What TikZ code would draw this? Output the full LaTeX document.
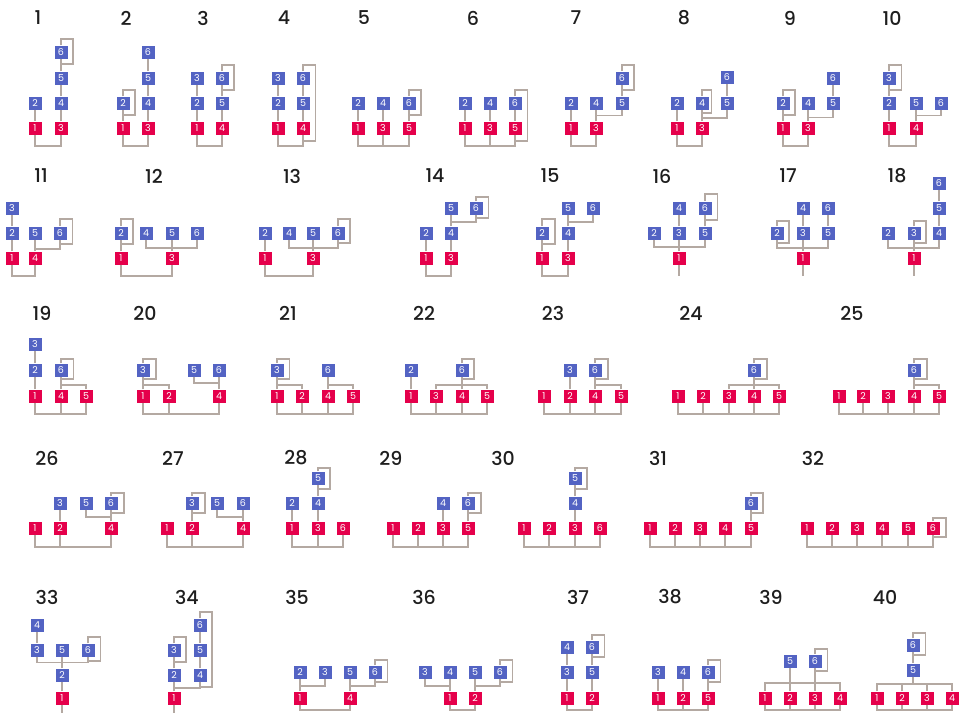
\documentclass[tikz,border=0pt]{standalone}
\usepackage{fontspec}
\setmainfont{Poppins}
\newfontfamily\ttlfont{Poppins}[UprightFont=* Medium]
\usetikzlibrary{calc}
\definecolor{nodered}{HTML}{E5004B}
\definecolor{nodeblue}{HTML}{5363C3}
\definecolor{linkgrey}{HTML}{B4A9A2}
\definecolor{ttlgrey}{HTML}{1E1E1E}
\begin{document}
\begin{tikzpicture}[x=1pt, y=-1pt,
  rbox/.style={fill=nodered, text=white, minimum size=13pt, inner sep=0pt, font=\fontsize{9.5}{9.5}\selectfont},
  bbox/.style={rbox, fill=nodeblue},
  ttl/.style={text=ttlgrey, font=\ttlfont\fontsize{19}{19}\selectfont},
  lnk/.style={draw=linkgrey, line width=1.8pt}]
\useasboundingbox (0,0) rectangle (968,712);

% ---- row 1 ----
% 1
\node[ttl] (t1) at (38,18) {1};
\node[rbox] (g1n1) at (35,128) {1};
\node[rbox] (g1n3) at (61,128) {3};
\node[bbox] (g1n2) at (35,103) {2};
\node[bbox] (g1n4) at (61,103) {4};
\node[bbox] (g1n5) at (61,78) {5};
\node[bbox] (g1n6) at (61,52) {6};
\draw[lnk] (g1n1) -- (g1n2);
\draw[lnk] (g1n3) -- (g1n4) -- (g1n5) -- (g1n6);
\draw[lnk] (g1n1) -- ++(0,18) -| (g1n3);
\draw[lnk] (g1n6.north) |- ++(12,-6) |- ++(-12,25);

% 2
\node[ttl] (t2) at (126,18) {2};
\node[rbox] (g2n1) at (123,128) {1};
\node[rbox] (g2n3) at (148,128) {3};
\node[bbox] (g2n2) at (123,103) {2};
\node[bbox] (g2n4) at (148,103) {4};
\node[bbox] (g2n5) at (148,78) {5};
\node[bbox] (g2n6) at (148,52) {6};
\draw[lnk] (g2n1) -- (g2n2);
\draw[lnk] (g2n3) -- (g2n4) -- (g2n5) -- (g2n6);
\draw[lnk] (g2n1) -- ++(0,18) -| (g2n3);
\draw[lnk] (g2n2.north) |- ++(12,-6) |- ++(-12,25);

% 3
\node[ttl] (t3) at (203,18) {3};
\node[rbox] (g3n1) at (197,128) {1};
\node[rbox] (g3n4) at (222,128) {4};
\node[bbox] (g3n2) at (197,103) {2};
\node[bbox] (g3n3) at (197,78) {3};
\node[bbox] (g3n5) at (222,103) {5};
\node[bbox] (g3n6) at (222,78) {6};
\draw[lnk] (g3n1) -- (g3n2) -- (g3n3);
\draw[lnk] (g3n4) -- (g3n5) -- (g3n6);
\draw[lnk] (g3n1) -- ++(0,18) -| (g3n4);
\draw[lnk] (g3n6.north) |- ++(12,-6) |- ++(-12,25);

% 4
\node[ttl] (t4) at (284,18) {4};
\node[rbox] (g4n1) at (278,128) {1};
\node[rbox] (g4n4) at (303,128) {4};
\node[bbox] (g4n2) at (278,103) {2};
\node[bbox] (g4n3) at (278,78) {3};
\node[bbox] (g4n5) at (303,103) {5};
\node[bbox] (g4n6) at (303,78) {6};
\draw[lnk] (g4n1) -- (g4n2) -- (g4n3);
\draw[lnk] (g4n4) -- (g4n5) -- (g4n6);
\draw[lnk] (g4n1) -- ++(0,18) -| (g4n4);
\draw[lnk] (g4n6.north) |- ++(12.5,-6) |- ++(-12.5,76);

% 5
\node[ttl] (t5) at (364,18) {5};
\node[rbox] (g5n1) at (358,128) {1};
\node[rbox] (g5n3) at (383,128) {3};
\node[rbox] (g5n5) at (409,128) {5};
\node[bbox] (g5n2) at (358,103) {2};
\node[bbox] (g5n4) at (383,103) {4};
\node[bbox] (g5n6) at (409,103) {6};
\draw[lnk] (g5n1) -- (g5n2);
\draw[lnk] (g5n3) -- (g5n4);
\draw[lnk] (g5n5) -- (g5n6);
\draw[lnk] (g5n1) -- ++(0,18) -| (g5n5);
\draw[lnk] (g5n3) -- ++(0,18);
\draw[lnk] (g5n6.north) |- ++(12,-6) |- ++(-12,25);

% 6
\node[ttl] (t6) at (473,18) {6};
\node[rbox] (g6n1) at (465,128) {1};
\node[rbox] (g6n3) at (490,128) {3};
\node[rbox] (g6n5) at (515,128) {5};
\node[bbox] (g6n2) at (465,103) {2};
\node[bbox] (g6n4) at (490,103) {4};
\node[bbox] (g6n6) at (515,103) {6};
\draw[lnk] (g6n1) -- (g6n2);
\draw[lnk] (g6n3) -- (g6n4);
\draw[lnk] (g6n5) -- (g6n6);
\draw[lnk] (g6n1) -- ++(0,18) -| (g6n5);
\draw[lnk] (g6n3) -- ++(0,18);
\draw[lnk] (g6n6.north) |- ++(12.5,-6) |- ++(-12.5,51);

% 7
\node[ttl] (t7) at (576,18) {7};
\node[rbox] (g7n1) at (571,128) {1};
\node[rbox] (g7n3) at (596,128) {3};
\node[bbox] (g7n2) at (571,103) {2};
\node[bbox] (g7n4) at (596,103) {4};
\node[bbox] (g7n5) at (622,103) {5};
\node[bbox] (g7n6) at (622,78) {6};
\coordinate (g7j) at ($(g7n4)!.5!(g7n3)$);
\draw[lnk] (g7n1) -- (g7n2);
\draw[lnk] (g7n3) -- (g7n4);
\draw[lnk] (g7n5) -- (g7n6);
\draw[lnk] (g7n5) |- (g7j);
\draw[lnk] (g7n1) -- ++(0,18) -| (g7n3);
\draw[lnk] (g7n6.north) |- ++(12,-6) |- ++(-12,25);

% 8
\node[ttl] (t8) at (684,18) {8};
\node[rbox] (g8n1) at (677,128) {1};
\node[rbox] (g8n3) at (702,128) {3};
\node[bbox] (g8n2) at (677,103) {2};
\node[bbox] (g8n4) at (702,103) {4};
\node[bbox] (g8n5) at (727,103) {5};
\node[bbox] (g8n6) at (727,77) {6};
\coordinate (g8j) at ($(g8n4)!.6!(g8n3)$);
\draw[lnk] (g8n1) -- (g8n2);
\draw[lnk] (g8n3) -- (g8n4);
\draw[lnk] (g8n5) -- (g8n6);
\draw[lnk] (g8n5) |- (g8j);
\draw[lnk] (g8n1) -- ++(0,18) -| (g8n3);
\draw[lnk] (g8n4.north) |- ++(9.5,-6) |- ++(-9.5,23);

% 9
\node[ttl] (t9) at (790,18) {9};
\node[rbox] (g9n1) at (783,128) {1};
\node[rbox] (g9n3) at (808,128) {3};
\node[bbox] (g9n2) at (783,103) {2};
\node[bbox] (g9n4) at (808,103) {4};
\node[bbox] (g9n5) at (833,103) {5};
\node[bbox] (g9n6) at (833,78) {6};
\coordinate (g9j) at ($(g9n4)!.58!(g9n3)$);
\draw[lnk] (g9n1) -- (g9n2);
\draw[lnk] (g9n3) -- (g9n4);
\draw[lnk] (g9n5) -- (g9n6);
\draw[lnk] (g9n5) |- (g9j);
\draw[lnk] (g9n1) -- ++(0,18) -| (g9n3);
\draw[lnk] (g9n2.north) |- ++(12,-6) |- ++(-12,25);

% 10
\node[ttl] (t10) at (892,18) {10};
\node[rbox] (g10n1) at (889,128) {1};
\node[rbox] (g10n4) at (916,128) {4};
\node[bbox] (g10n2) at (889,103) {2};
\node[bbox] (g10n3) at (889,78) {3};
\node[bbox] (g10n5) at (916,103) {5};
\node[bbox] (g10n6) at (941,103) {6};
\coordinate (g10j) at ($(g10n5)!.5!(g10n4)$);
\draw[lnk] (g10n1) -- (g10n2) -- (g10n3);
\draw[lnk] (g10n4) -- (g10n5);
\draw[lnk] (g10n6) |- (g10j);
\draw[lnk] (g10n1) -- ++(0,18) -| (g10n4);
\draw[lnk] (g10n3.north) |- ++(12.5,-6) |- ++(-12.5,25);

% ---- row 2 ----
% 11
\node[ttl] (t11) at (41,176) {11};
\node[rbox] (g11n1) at (12,258) {1};
\node[rbox] (g11n4) at (35,258) {4};
\node[bbox] (g11n2) at (12,233) {2};
\node[bbox] (g11n3) at (12,208) {3};
\node[bbox] (g11n5) at (35,233) {5};
\node[bbox] (g11n6) at (60,233) {6};
\coordinate (g11j) at ($(g11n5)!.64!(g11n4)$);
\draw[lnk] (g11n1) -- (g11n2) -- (g11n3);
\draw[lnk] (g11n4) -- (g11n5);
\draw[lnk] (g11n6) |- (g11j);
\draw[lnk] (g11n1) -- ++(0,18) -| (g11n4);
\draw[lnk] (g11n6.north) |- ++(12.5,-7) |- ++(-12.5,25);

% 12
\node[ttl] (t12) at (154,176) {12};
\node[rbox] (g12n1) at (121,258) {1};
\node[rbox] (g12n3) at (172,258) {3};
\node[bbox] (g12n2) at (121,233) {2};
\node[bbox] (g12n4) at (146,233) {4};
\node[bbox] (g12n5) at (172,233) {5};
\node[bbox] (g12n6) at (197,233) {6};
\coordinate (g12j) at ($(g12n5)!.6!(g12n3)$);
\draw[lnk] (g12n1) -- (g12n2);
\draw[lnk] (g12n3) -- (g12n5);
\draw[lnk] (g12n4) |- (g12j) -| (g12n6);
\draw[lnk] (g12n1) -- ++(0,18) -| (g12n3);
\draw[lnk] (g12n2.north) |- ++(12,-7) |- ++(-12,25);

% 13
\node[ttl] (t13) at (292,176) {13};
\node[rbox] (g13n1) at (265,258) {1};
\node[rbox] (g13n3) at (313,258) {3};
\node[bbox] (g13n2) at (265,233) {2};
\node[bbox] (g13n4) at (289,233) {4};
\node[bbox] (g13n5) at (313,233) {5};
\node[bbox] (g13n6) at (338,233) {6};
\coordinate (g13j) at ($(g13n5)!.6!(g13n3)$);
\draw[lnk] (g13n1) -- (g13n2);
\draw[lnk] (g13n3) -- (g13n5);
\draw[lnk] (g13n4) |- (g13j) -| (g13n6);
\draw[lnk] (g13n1) -- ++(0,18) -| (g13n3);
\draw[lnk] (g13n6.north) |- ++(12,-7) |- ++(-12,24);

% 14
\node[ttl] (t14) at (435,176) {14};
\node[rbox] (g14n1) at (426,258) {1};
\node[rbox] (g14n3) at (451,258) {3};
\node[bbox] (g14n2) at (426,233) {2};
\node[bbox] (g14n4) at (451,233) {4};
\node[bbox] (g14n5) at (451,208) {5};
\node[bbox] (g14n6) at (476,208) {6};
\coordinate (g14j) at ($(g14n5)!.56!(g14n4)$);
\draw[lnk] (g14n1) -- (g14n2);
\draw[lnk] (g14n3) -- (g14n4) -- (g14n5);
\draw[lnk] (g14n6) |- (g14j);
\draw[lnk] (g14n1) -- ++(0,18) -| (g14n3);
\draw[lnk] (g14n6.north) |- ++(12.5,-4.5) |- ++(-12.5,21);

% 15
\node[ttl] (t15) at (550,176) {15};
\node[rbox] (g15n1) at (542,258) {1};
\node[rbox] (g15n3) at (568,258) {3};
\node[bbox] (g15n2) at (542,233) {2};
\node[bbox] (g15n4) at (568,233) {4};
\node[bbox] (g15n5) at (568,208) {5};
\node[bbox] (g15n6) at (593,208) {6};
\coordinate (g15j) at ($(g15n5)!.56!(g15n4)$);
\draw[lnk] (g15n1) -- (g15n2);
\draw[lnk] (g15n3) -- (g15n4) -- (g15n5);
\draw[lnk] (g15n6) |- (g15j);
\draw[lnk] (g15n1) -- ++(0,18) -| (g15n3);
\draw[lnk] (g15n2.north) |- ++(13,-7) |- ++(-13,25);

% 16
\node[ttl] (t16) at (662,176) {16};
\node[rbox] (g16n1) at (679,258) {1};
\node[bbox] (g16n2) at (654,233) {2};
\node[bbox] (g16n3) at (679,233) {3};
\node[bbox] (g16n4) at (679,208) {4};
\node[bbox] (g16n5) at (705,233) {5};
\node[bbox] (g16n6) at (705,208) {6};
\coordinate (g16j) at ($(g16n3)!.56!(g16n1)$);
\draw[lnk] (g16n1) -- (g16n3) -- (g16n4);
\draw[lnk] (g16n5) -- (g16n6);
\draw[lnk] (g16n2) |- (g16j) -| (g16n5);
\draw[lnk] (g16n1) -- ++(0,18);
\draw[lnk] (g16n6.north) |- ++(12.5,-7.5) |- ++(-12.5,26);

% 17
\node[ttl] (t17) at (788,176) {17};
\node[rbox] (g17n1) at (803,258) {1};
\node[bbox] (g17n2) at (777,233) {2};
\node[bbox] (g17n3) at (803,233) {3};
\node[bbox] (g17n4) at (803,208) {4};
\node[bbox] (g17n5) at (828,233) {5};
\node[bbox] (g17n6) at (828,208) {6};
\coordinate (g17j) at ($(g17n3)!.6!(g17n1)$);
\draw[lnk] (g17n1) -- (g17n3) -- (g17n4);
\draw[lnk] (g17n5) -- (g17n6);
\draw[lnk] (g17n2) |- (g17j) -| (g17n5);
\draw[lnk] (g17n1) -- ++(0,18);
\draw[lnk] (g17n2.north) |- ++(12,-5.5) |- ++(-12,22);

% 18
\node[ttl] (t18) at (897,176) {18};
\node[rbox] (g18n1) at (914,258) {1};
\node[bbox] (g18n2) at (888,233) {2};
\node[bbox] (g18n3) at (914,233) {3};
\node[bbox] (g18n4) at (939,233) {4};
\node[bbox] (g18n5) at (939,208) {5};
\node[bbox] (g18n6) at (939,183) {6};
\coordinate (g18j) at ($(g18n3)!.6!(g18n1)$);
\draw[lnk] (g18n1) -- (g18n3);
\draw[lnk] (g18n4) -- (g18n5) -- (g18n6);
\draw[lnk] (g18n2) |- (g18j) -| (g18n4);
\draw[lnk] (g18n1) -- ++(0,18);
\draw[lnk] (g18n3.north) |- ++(12,-5.5) |- ++(-12,22);

% ---- row 3 ----
% 19
\node[ttl] (t19) at (42,313) {19};
\node[rbox] (g19n1) at (35,396) {1};
\node[rbox] (g19n4) at (61,396) {4};
\node[rbox] (g19n5) at (86,396) {5};
\node[bbox] (g19n2) at (35,370) {2};
\node[bbox] (g19n3) at (35,344) {3};
\node[bbox] (g19n6) at (61,370) {6};
\coordinate (g19j) at ($(g19n6)!.58!(g19n4)$);
\draw[lnk] (g19n1) -- (g19n2) -- (g19n3);
\draw[lnk] (g19n4) -- (g19n6);
\draw[lnk] (g19n5) |- (g19j);
\draw[lnk] (g19n1) -- ++(0,18) -| (g19n5);
\draw[lnk] (g19n4) -- ++(0,18);
\draw[lnk] (g19n6.north) |- ++(12.5,-4.5) |- ++(-12.5,20);

% 20
\node[ttl] (t20) at (145,313) {20};
\node[rbox] (g20n1) at (143,396) {1};
\node[rbox] (g20n2) at (169,396) {2};
\node[rbox] (g20n4) at (219,396) {4};
\node[bbox] (g20n3) at (143,370) {3};
\node[bbox] (g20n5) at (194,370) {5};
\node[bbox] (g20n6) at (219,370) {6};
\coordinate (g20ja) at ($(g20n3)!.58!(g20n1)$);
\coordinate (g20jb) at ($(g20n6)!.5!(g20n4)$);
\draw[lnk] (g20n1) -- (g20n3);
\draw[lnk] (g20n4) -- (g20n6);
\draw[lnk] (g20n2) |- (g20ja);
\draw[lnk] (g20n5) |- (g20jb);
\draw[lnk] (g20n1) -- ++(0,18) -| (g20n4);
\draw[lnk] (g20n2) -- ++(0,18);
\draw[lnk] (g20n3.north) |- ++(13,-4.5) |- ++(-13,20);

% 21
\node[ttl] (t21) at (288,313) {21};
\node[rbox] (g21n1) at (277,396) {1};
\node[rbox] (g21n2) at (302,396) {2};
\node[rbox] (g21n4) at (328,396) {4};
\node[rbox] (g21n5) at (353,396) {5};
\node[bbox] (g21n3) at (277,370) {3};
\node[bbox] (g21n6) at (328,370) {6};
\coordinate (g21ja) at ($(g21n3)!.58!(g21n1)$);
\coordinate (g21jb) at ($(g21n6)!.58!(g21n4)$);
\draw[lnk] (g21n1) -- (g21n3);
\draw[lnk] (g21n4) -- (g21n6);
\draw[lnk] (g21n2) |- (g21ja);
\draw[lnk] (g21n5) |- (g21jb);
\draw[lnk] (g21n1) -- ++(0,18) -| (g21n5);
\draw[lnk] (g21n2) -- ++(0,18);
\draw[lnk] (g21n4) -- ++(0,18);
\draw[lnk] (g21n3.north) |- ++(12.5,-4.5) |- ++(-12.5,20);

% 22
\node[ttl] (t22) at (424,313) {22};
\node[rbox] (g22n1) at (411,396) {1};
\node[rbox] (g22n3) at (436,396) {3};
\node[rbox] (g22n4) at (462,396) {4};
\node[rbox] (g22n5) at (487,396) {5};
\node[bbox] (g22n2) at (411,370) {2};
\node[bbox] (g22n6) at (462,370) {6};
\coordinate (g22j) at ($(g22n6)!.58!(g22n4)$);
\draw[lnk] (g22n1) -- (g22n2);
\draw[lnk] (g22n4) -- (g22n6);
\draw[lnk] (g22n3) |- (g22j) -| (g22n5);
\draw[lnk] (g22n1) -- ++(0,18) -| (g22n5);
\draw[lnk] (g22n3) -- ++(0,18);
\draw[lnk] (g22n4) -- ++(0,18);
\draw[lnk] (g22n6.north) |- ++(12,-4.5) |- ++(-12,20);

% 23
\node[ttl] (t23) at (553,313) {23};
\node[rbox] (g23n1) at (544,396) {1};
\node[rbox] (g23n2) at (570,396) {2};
\node[rbox] (g23n4) at (595,396) {4};
\node[rbox] (g23n5) at (621,396) {5};
\node[bbox] (g23n3) at (570,370) {3};
\node[bbox] (g23n6) at (595,370) {6};
\coordinate (g23j) at ($(g23n6)!.58!(g23n4)$);
\draw[lnk] (g23n2) -- (g23n3);
\draw[lnk] (g23n4) -- (g23n6);
\draw[lnk] (g23n5) |- (g23j);
\draw[lnk] (g23n1) -- ++(0,18) -| (g23n5);
\draw[lnk] (g23n2) -- ++(0,18);
\draw[lnk] (g23n4) -- ++(0,18);
\draw[lnk] (g23n6.north) |- ++(13,-4.5) |- ++(-13,20);

% 24
\node[ttl] (t24) at (691,313) {24};
\node[rbox] (g24n1) at (678,396) {1};
\node[rbox] (g24n2) at (703,396) {2};
\node[rbox] (g24n3) at (729,396) {3};
\node[rbox] (g24n4) at (754,396) {4};
\node[rbox] (g24n5) at (779,396) {5};
\node[bbox] (g24n6) at (754,370) {6};
\coordinate (g24j) at ($(g24n6)!.58!(g24n4)$);
\draw[lnk] (g24n4) -- (g24n6);
\draw[lnk] (g24n3) |- (g24j) -| (g24n5);
\draw[lnk] (g24n1) -- ++(0,18) -| (g24n5);
\draw[lnk] (g24n2) -- ++(0,18);
\draw[lnk] (g24n3) -- ++(0,18);
\draw[lnk] (g24n4) -- ++(0,18);
\draw[lnk] (g24n6.north) |- ++(13,-4.5) |- ++(-13,20);

% 25
\node[ttl] (t25) at (852,313) {25};
\node[rbox] (g25n1) at (839,396) {1};
\node[rbox] (g25n2) at (863,396) {2};
\node[rbox] (g25n3) at (888,396) {3};
\node[rbox] (g25n4) at (914,396) {4};
\node[rbox] (g25n5) at (939,396) {5};
\node[bbox] (g25n6) at (914,370) {6};
\coordinate (g25j) at ($(g25n6)!.58!(g25n4)$);
\draw[lnk] (g25n4) -- (g25n6);
\draw[lnk] (g25n5) |- (g25j);
\draw[lnk] (g25n1) -- ++(0,18) -| (g25n5);
\draw[lnk] (g25n2) -- ++(0,18);
\draw[lnk] (g25n3) -- ++(0,18);
\draw[lnk] (g25n4) -- ++(0,18);
\draw[lnk] (g25n6.north) |- ++(13,-4.5) |- ++(-13,20);

% ---- row 4 ----
% 26
\node[ttl] (t26) at (47,458) {26};
\node[rbox] (g26n1) at (35,528) {1};
\node[rbox] (g26n2) at (60,528) {2};
\node[rbox] (g26n4) at (111,528) {4};
\node[bbox] (g26n3) at (60,503) {3};
\node[bbox] (g26n5) at (86,503) {5};
\node[bbox] (g26n6) at (111,503) {6};
\coordinate (g26j) at ($(g26n6)!.56!(g26n4)$);
\draw[lnk] (g26n2) -- (g26n3);
\draw[lnk] (g26n4) -- (g26n6);
\draw[lnk] (g26n5) |- (g26j);
\draw[lnk] (g26n1) -- ++(0,19) -| (g26n4);
\draw[lnk] (g26n2) -- ++(0,19);
\draw[lnk] (g26n6.north) |- ++(13,-3.5) |- ++(-13,20);

% 27
\node[ttl] (t27) at (173,458) {27};
\node[rbox] (g27n1) at (167,528) {1};
\node[rbox] (g27n2) at (192,528) {2};
\node[rbox] (g27n4) at (243,528) {4};
\node[bbox] (g27n3) at (192,503) {3};
\node[bbox] (g27n5) at (217,503) {5};
\node[bbox] (g27n6) at (243,503) {6};
\coordinate (g27j) at ($(g27n6)!.56!(g27n4)$);
\draw[lnk] (g27n2) -- (g27n3);
\draw[lnk] (g27n4) -- (g27n6);
\draw[lnk] (g27n5) |- (g27j);
\draw[lnk] (g27n1) -- ++(0,19) -| (g27n4);
\draw[lnk] (g27n2) -- ++(0,19);
\draw[lnk] (g27n3.north) |- ++(13,-3.5) |- ++(-13,20);

% 28
\node[ttl] (t28) at (296,458) {28};
\node[rbox] (g28n1) at (292,528) {1};
\node[rbox] (g28n3) at (318,528) {3};
\node[rbox] (g28n6) at (343,528) {6};
\node[bbox] (g28n2) at (292,503) {2};
\node[bbox] (g28n4) at (318,503) {4};
\node[bbox] (g28n5) at (318,478) {5};
\draw[lnk] (g28n1) -- (g28n2);
\draw[lnk] (g28n3) -- (g28n4) -- (g28n5);
\draw[lnk] (g28n1) -- ++(0,19) -| (g28n6);
\draw[lnk] (g28n3) -- ++(0,19);
\draw[lnk] (g28n5.north) |- ++(12,-3.5) |- ++(-12,21);

% 29
\node[ttl] (t29) at (391,458) {29};
\node[rbox] (g29n1) at (393,528) {1};
\node[rbox] (g29n2) at (418,528) {2};
\node[rbox] (g29n3) at (443,528) {3};
\node[rbox] (g29n5) at (468,528) {5};
\node[bbox] (g29n4) at (443,503) {4};
\node[bbox] (g29n6) at (468,503) {6};
\draw[lnk] (g29n3) -- (g29n4);
\draw[lnk] (g29n5) -- (g29n6);
\draw[lnk] (g29n1) -- ++(0,19) -| (g29n5);
\draw[lnk] (g29n2) -- ++(0,19);
\draw[lnk] (g29n3) -- ++(0,19);
\draw[lnk] (g29n6.north) |- ++(13,-3.5) |- ++(-13,20);

% 30
\node[ttl] (t30) at (503,458) {30};
\node[rbox] (g30n1) at (524,528) {1};
\node[rbox] (g30n2) at (549,528) {2};
\node[rbox] (g30n3) at (575,528) {3};
\node[rbox] (g30n6) at (600,528) {6};
\node[bbox] (g30n4) at (575,503) {4};
\node[bbox] (g30n5) at (575,478) {5};
\draw[lnk] (g30n3) -- (g30n4) -- (g30n5);
\draw[lnk] (g30n1) -- ++(0,19) -| (g30n6);
\draw[lnk] (g30n2) -- ++(0,19);
\draw[lnk] (g30n3) -- ++(0,19);
\draw[lnk] (g30n5.north) |- ++(12,-3.5) |- ++(-12,21);

% 31
\node[ttl] (t31) at (658,458) {31};
\node[rbox] (g31n1) at (650,528) {1};
\node[rbox] (g31n2) at (675,528) {2};
\node[rbox] (g31n3) at (700,528) {3};
\node[rbox] (g31n4) at (725,528) {4};
\node[rbox] (g31n5) at (751,528) {5};
\node[bbox] (g31n6) at (751,503) {6};
\draw[lnk] (g31n5) -- (g31n6);
\draw[lnk] (g31n1) -- ++(0,19) -| (g31n5);
\draw[lnk] (g31n2) -- ++(0,19);
\draw[lnk] (g31n3) -- ++(0,19);
\draw[lnk] (g31n4) -- ++(0,19);
\draw[lnk] (g31n6.north) |- ++(12,-3.5) |- ++(-12,20);

% 32
\node[ttl] (t32) at (813,458) {32};
\node[rbox] (g32n1) at (807,528) {1};
\node[rbox] (g32n2) at (832,528) {2};
\node[rbox] (g32n3) at (857,528) {3};
\node[rbox] (g32n4) at (882,528) {4};
\node[rbox] (g32n5) at (908,528) {5};
\node[rbox] (g32n6) at (933,528) {6};
\draw[lnk] (g32n1) -- ++(0,19) -| (g32n6);
\draw[lnk] (g32n2) -- ++(0,19);
\draw[lnk] (g32n3) -- ++(0,19);
\draw[lnk] (g32n4) -- ++(0,19);
\draw[lnk] (g32n5) -- ++(0,19);
\draw[lnk] (g32n6.north) |- ++(13,-3.5) |- ++(-13,19);

% ---- row 5 ----
% 33
\node[ttl] (t33) at (47,597) {33};
\node[rbox] (g33n1) at (62,698) {1};
\node[bbox] (g33n2) at (62,675) {2};
\node[bbox] (g33n3) at (37,650) {3};
\node[bbox] (g33n4) at (37,625) {4};
\node[bbox] (g33n5) at (62,650) {5};
\node[bbox] (g33n6) at (88,650) {6};
\coordinate (g33j) at ($(g33n5)!.5!(g33n2)$);
\draw[lnk] (g33n3) -- (g33n4);
\draw[lnk] (g33n1) -- (g33n2) -- (g33n5);
\draw[lnk] (g33n3) |- (g33j) -| (g33n6);
\draw[lnk] (g33n1) -- ++(0,16);
\draw[lnk] (g33n6.north) |- ++(12.5,-6) |- ++(-12.5,24);

% 34
\node[ttl] (t34) at (187,597) {34};
\node[rbox] (g34n1) at (174,698) {1};
\node[bbox] (g34n2) at (174,675) {2};
\node[bbox] (g34n3) at (174,650) {3};
\node[bbox] (g34n4) at (200,675) {4};
\node[bbox] (g34n5) at (200,650) {5};
\node[bbox] (g34n6) at (200,625) {6};
\coordinate (g34j) at ($(g34n2)!.55!(g34n1)$);
\draw[lnk] (g34n1) -- (g34n2) -- (g34n3);
\draw[lnk] (g34n4) -- (g34n5) -- (g34n6);
\draw[lnk] (g34n4) |- (g34j);
\draw[lnk] (g34n1) -- ++(0,16);
\draw[lnk] (g34n3.north) |- ++(12,-6) |- ++(-12,25);
\draw[lnk] (g34n6.north) |- ++(12,-6) |- ++(-12,75);

% 35
\node[ttl] (t35) at (297,597) {35};
\node[rbox] (g35n1) at (300,698) {1};
\node[rbox] (g35n4) at (350,698) {4};
\node[bbox] (g35n2) at (300,672) {2};
\node[bbox] (g35n3) at (325,672) {3};
\node[bbox] (g35n5) at (350,672) {5};
\node[bbox] (g35n6) at (375,672) {6};
\coordinate (g35ja) at ($(g35n2)!.55!(g35n1)$);
\coordinate (g35jb) at ($(g35n5)!.55!(g35n4)$);
\draw[lnk] (g35n1) -- (g35n2);
\draw[lnk] (g35n4) -- (g35n5);
\draw[lnk] (g35n3) |- (g35ja);
\draw[lnk] (g35n6) |- (g35jb);
\draw[lnk] (g35n1) -- ++(0,12) -| (g35n4);
\draw[lnk] (g35n6.north) |- ++(12.5,-5) |- ++(-12.5,22);

% 36
\node[ttl] (t36) at (424,597) {36};
\node[rbox] (g36n1) at (450,698) {1};
\node[rbox] (g36n2) at (475,698) {2};
\node[bbox] (g36n3) at (425,672) {3};
\node[bbox] (g36n4) at (450,672) {4};
\node[bbox] (g36n5) at (475,672) {5};
\node[bbox] (g36n6) at (500,672) {6};
\coordinate (g36ja) at ($(g36n4)!.55!(g36n1)$);
\coordinate (g36jb) at ($(g36n5)!.55!(g36n2)$);
\draw[lnk] (g36n1) -- (g36n4);
\draw[lnk] (g36n2) -- (g36n5);
\draw[lnk] (g36n3) |- (g36ja);
\draw[lnk] (g36n6) |- (g36jb);
\draw[lnk] (g36n1) -- ++(0,12) -| (g36n2);
\draw[lnk] (g36n6.north) |- ++(12.5,-5) |- ++(-12.5,22);

% 37
\node[ttl] (t37) at (578,597) {37};
\node[rbox] (g37n1) at (567,698) {1};
\node[rbox] (g37n2) at (592,698) {2};
\node[bbox] (g37n3) at (567,672) {3};
\node[bbox] (g37n4) at (567,647) {4};
\node[bbox] (g37n5) at (592,672) {5};
\node[bbox] (g37n6) at (592,647) {6};
\draw[lnk] (g37n1) -- (g37n3) -- (g37n4);
\draw[lnk] (g37n2) -- (g37n5) -- (g37n6);
\draw[lnk] (g37n1) -- ++(0,12) -| (g37n2);
\draw[lnk] (g37n6.north) |- ++(12.5,-5) |- ++(-12.5,22);

% 38
\node[ttl] (t38) at (670,597) {38};
\node[rbox] (g38n1) at (658,698) {1};
\node[rbox] (g38n2) at (683,698) {2};
\node[rbox] (g38n5) at (708,698) {5};
\node[bbox] (g38n3) at (658,672) {3};
\node[bbox] (g38n4) at (683,672) {4};
\node[bbox] (g38n6) at (708,672) {6};
\draw[lnk] (g38n1) -- (g38n3);
\draw[lnk] (g38n2) -- (g38n4);
\draw[lnk] (g38n5) -- (g38n6);
\draw[lnk] (g38n1) -- ++(0,12) -| (g38n5);
\draw[lnk] (g38n2) -- ++(0,12);
\draw[lnk] (g38n6.north) |- ++(12.5,-5) |- ++(-12.5,22);

% 39
\node[ttl] (t39) at (771,597) {39};
\node[rbox] (g39n1) at (765,698) {1};
\node[rbox] (g39n2) at (790,698) {2};
\node[rbox] (g39n3) at (815,698) {3};
\node[rbox] (g39n4) at (840,698) {4};
\node[bbox] (g39n5) at (790,661) {5};
\node[bbox] (g39n6) at (815,661) {6};
\draw[lnk] (g39n1) -- ++(0,-15) -| (g39n4);
\draw[lnk] (g39n2) -- (g39n5);
\draw[lnk] (g39n3) -- (g39n6);
\draw[lnk] (g39n1) -- ++(0,12) -| (g39n4);
\draw[lnk] (g39n2) -- ++(0,12);
\draw[lnk] (g39n3) -- ++(0,12);
\draw[lnk] (g39n6.north) |- ++(12.5,-5) |- ++(-12.5,22);

% 40
\node[ttl] (t40) at (885,597) {40};
\node[rbox] (g40n1) at (877,698) {1};
\node[rbox] (g40n2) at (902,698) {2};
\node[rbox] (g40n3) at (927,698) {3};
\node[rbox] (g40n4) at (952,698) {4};
\node[bbox] (g40n5) at (913,670) {5};
\node[bbox] (g40n6) at (913,645) {6};
\draw[lnk] (g40n1) -- ++(0,-14) -| (g40n4);
\draw[lnk] (g40n2) -- ++(0,-14);
\draw[lnk] (g40n3) -- ++(0,-14);
\draw[lnk] (g40n5) -- ++(0,14);
\draw[lnk] (g40n5) -- (g40n6);
\draw[lnk] (g40n1) -- ++(0,12) -| (g40n4);
\draw[lnk] (g40n2) -- ++(0,12);
\draw[lnk] (g40n3) -- ++(0,12);
\draw[lnk] (g40n6.north) |- ++(12.5,-5) |- ++(-12.5,22);
\end{tikzpicture}
\end{document}
